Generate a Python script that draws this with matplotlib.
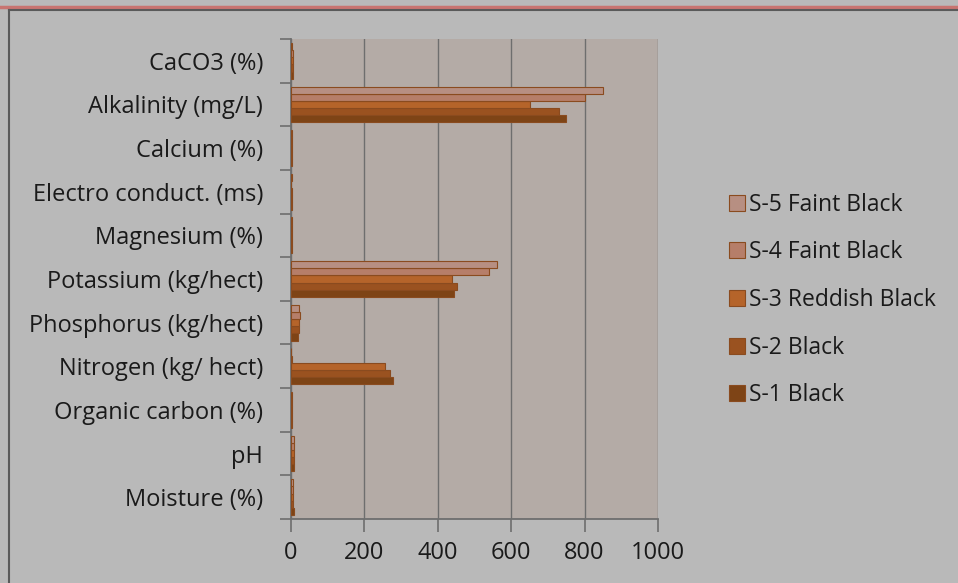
import numpy as np
import matplotlib.pyplot as plt
from matplotlib.lines import Line2D

plt.rcParams['font.family'] = ['Open Sans', 'DejaVu Sans']

# soil parameters, listed bottom to top as they appear on the axis
params = ['Moisture (%)', 'pH', 'Organic carbon (%)', 'Nitrogen (kg/ hect)',
          'Phosphorus (kg/hect)', 'Potassium (kg/hect)', 'Magnesium (%)',
          'Electro conduct. (ms)', 'Calcium (%)', 'Alkalinity (mg/L)', 'CaCO3 (%)']

s1 = [7.5, 7.8, 2.5, 279, 20, 445, 2.0, 2.5, 2.5, 750, 6]
s2 = [6.8, 7.6, 2.2, 270, 21, 451, 2.0, 2.2, 2.3, 730, 5]
s3 = [6.2, 7.4, 2.0, 256, 22, 440, 1.8, 2.0, 2.2, 650, 4.5]
s4 = [5.5, 7.2, 1.8, 1.5, 25, 540, 1.6, 0.5, 2.0, 800, 5]
s5 = [6.0, 7.0, 1.5, 1.2, 22, 560, 1.5, 2.0, 1.8, 850, 4]

series = [
    ('S-1 Black', s1, '#7e4416'),
    ('S-2 Black', s2, '#9a5220'),
    ('S-3 Reddish Black', s3, '#b5642a'),
    ('S-4 Faint Black', s4, '#b67e69'),
    ('S-5 Faint Black', s5, '#b78f82'),
]

fig = plt.figure(figsize=(9.58, 5.83), dpi=100)
fig.patch.set_facecolor('#b9b9b9')
ax = fig.add_axes([291 / 958, 1 - 519 / 583, 367 / 958, 480 / 583])
ax.set_facecolor('#b4aba6')

y = np.arange(len(params))
h = 0.164
# S-1 sits lowest in each group, S-5 on top
for i, (name, vals, col) in enumerate(series):
    ax.barh(y - 0.41 + i * h + h / 2, vals, height=h, color=col,
            edgecolor='#8a4b1f', linewidth=0.8, label=name, zorder=3)

ax.set_xlim(0, 1000)
ax.set_ylim(-0.5, len(params) - 0.5)
ax.set_xticks(np.arange(0, 1001, 200))
ax.xaxis.grid(True, color='#6e6e6e', linewidth=1.0, zorder=0)
ax.set_yticks(y)
ax.set_yticklabels(params, fontsize=17, color='#1a1a1a')
ax.set_yticks(np.arange(-0.5, len(params)), minor=True)
ax.tick_params(axis='y', which='major', length=0, pad=20)
ax.tick_params(axis='y', which='minor', length=8, color='#6e6e6e', width=1.2)
ax.tick_params(axis='x', length=9, color='#6e6e6e', width=1.2, labelsize=17,
               labelcolor='#1a1a1a', pad=7)
for side in ['top', 'right']:
    ax.spines[side].set_visible(False)
for side in ['left', 'bottom']:
    ax.spines[side].set_color('#6e6e6e')
    ax.spines[side].set_linewidth(1.3)

handles, labels = ax.get_legend_handles_labels()
leg = fig.legend(handles[::-1], labels[::-1], loc='center left',
                 bbox_to_anchor=(708 / 958, 1 - 300 / 583), frameon=False,
                 fontsize=16.5, handlelength=0.7, handleheight=0.7,
                 handletextpad=0.2, labelspacing=1.03)
for t in leg.get_texts():
    t.set_color('#1a1a1a')

# slide frame: red rule on top, dark border on the left and top
fig.add_artist(Line2D([0, 1], [1 - 6.5 / 583] * 2, color='#c87470', linewidth=2.5,
                      transform=fig.transFigure))
fig.add_artist(Line2D([9 / 958, 1], [1 - 10 / 583] * 2, color='#5a5a5a', linewidth=1.5,
                      transform=fig.transFigure))
fig.add_artist(Line2D([9 / 958] * 2, [0, 1 - 10 / 583], color='#5a5a5a', linewidth=1.5,
                      transform=fig.transFigure))

fig.savefig('out.png', dpi=100, facecolor=fig.get_facecolor())
